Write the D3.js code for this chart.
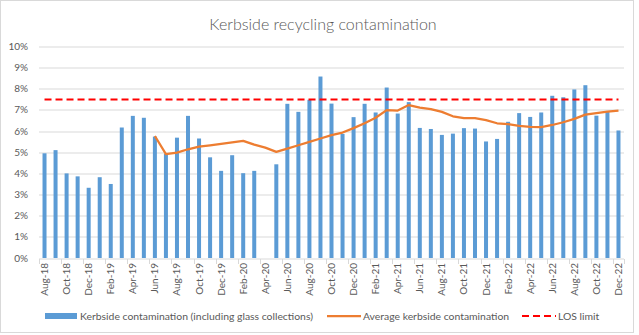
<!DOCTYPE html>
<html>
<head>
<meta charset="utf-8">
<script src="https://cdn.jsdelivr.net/npm/d3@7"></script>
<style>
  body { margin: 0; background: #fff; }
  text { font-family: Lato, "Open Sans", sans-serif; }
</style>
</head>
<body>
<div id="chart"></div>
<script>
// data
const months = [
  'Aug-18', 'Sep-18', 'Oct-18', 'Nov-18', 'Dec-18',
  'Jan-19', 'Feb-19', 'Mar-19', 'Apr-19', 'May-19', 'Jun-19', 'Jul-19', 'Aug-19', 'Sep-19', 'Oct-19', 'Nov-19', 'Dec-19',
  'Jan-20', 'Feb-20', 'Mar-20', 'Apr-20', 'May-20', 'Jun-20', 'Jul-20', 'Aug-20', 'Sep-20', 'Oct-20', 'Nov-20', 'Dec-20',
  'Jan-21', 'Feb-21', 'Mar-21', 'Apr-21', 'May-21', 'Jun-21', 'Jul-21', 'Aug-21', 'Sep-21', 'Oct-21', 'Nov-21', 'Dec-21',
  'Jan-22', 'Feb-22', 'Mar-22', 'Apr-22', 'May-22', 'Jun-22', 'Jul-22', 'Aug-22', 'Sep-22', 'Oct-22', 'Nov-22', 'Dec-22',
];
const tickLabels = [
  'Aug-18', 'Oct-18', 'Dec-18', 'Feb-19', 'Apr-19', 'Jun-19', 'Aug-19', 'Oct-19', 'Dec-19',
  'Feb-20', 'Apr-20', 'Jun-20', 'Aug-20', 'Oct-20', 'Dec-20', 'Feb-21', 'Apr-21', 'Jun-21',
  'Aug-21', 'Oct-21', 'Dec-21', 'Feb-22', 'Apr-22', 'Jun-22', 'Aug-22', 'Oct-22', 'Dec-22',
];
// kerbside contamination (%) per month, null = no data
const contamination = [
  4.95, 5.1, 4.0, 3.86, 3.32,
  3.82, 3.5, 6.17, 6.72, 6.63, 5.74, 4.93, 5.69, 6.72, 5.65, 4.76, 4.12,
  4.86, 4.01, 4.12, null, 4.43, 7.29, 6.91, 7.48, 8.58, 7.3, 5.87, 6.66,
  7.29, 6.88, 8.06, 6.83, 7.37, 6.15, 6.1, 5.82, 5.88, 6.14, 6.12, 5.51,
  5.63, 6.44, 6.85, 6.67, 6.88, 7.67, 7.6, 7.97, 8.17, 6.73, 6.91, 6.03,
];
// average kerbside contamination (%)
const average = [
  null, null, null, null, null,
  null, null, null, null, null, 5.77, 4.91, 4.98, 5.14, 5.27, 5.33, 5.4,
  5.47, 5.54, 5.36, 5.22, 5.02, 5.17, 5.33, 5.49, 5.65, 5.81, 5.93, 6.14,
  6.37, 6.63, 6.99, 6.97, 7.23, 7.11, 7.04, 6.91, 6.7, 6.61, 6.61, 6.52,
  6.37, 6.33, 6.25, 6.2, 6.19, 6.29, 6.42, 6.58, 6.78, 6.85, 6.92, 6.97,
];
const losLimit = 7.5;
const yTicks = [0, 1, 2, 3, 4, 5, 6, 7, 8, 9, 10];

const W = 639;
const H = 335;
const margin = { top: 46.5, right: 15, bottom: 77, left: 39 };
const innerW = W - margin.left - margin.right;
const innerH = H - margin.top - margin.bottom;
const grey = '#595959';

const svg = d3.select('#chart').append('svg').attr('width', W).attr('height', H);

// chart frame
svg.append('rect')
  .attr('x', 0.5).attr('y', 0.5)
  .attr('width', 633).attr('height', 332)
  .attr('fill', '#fff').attr('stroke', '#d9d9d9');

svg.append('text')
  .attr('x', 323).attr('y', 30)
  .attr('text-anchor', 'middle')
  .attr('font-size', 16)
  .attr('font-weight', 300)
  .attr('fill', grey)
  .text('Kerbside recycling contamination');

const g = svg.append('g').attr('transform', `translate(${margin.left},${margin.top})`);

const x = d3.scaleBand().domain(months).range([0, innerW]);
const y = d3.scaleLinear().domain([0, 10]).range([innerH, 0]);

// gridlines
g.append('g')
  .selectAll('line')
  .data(yTicks.slice(1))
  .join('line')
  .attr('x1', 0).attr('x2', innerW)
  .attr('y1', (d) => Math.round(y(d)) + 0.5)
  .attr('y2', (d) => Math.round(y(d)) + 0.5)
  .attr('stroke', '#d9d9d9');

// y labels
g.append('g')
  .selectAll('text')
  .data(yTicks)
  .join('text')
  .attr('x', -11)
  .attr('y', (d) => y(d))
  .attr('dy', '0.35em')
  .attr('text-anchor', 'end')
  .attr('font-size', 10)
  .attr('fill', grey)
  .text((d) => d + '%');

// bars
const barW = 4;
g.append('g')
  .selectAll('rect')
  .data(months.map((m, i) => ({ m, v: contamination[i] })).filter((d) => d.v != null))
  .join('rect')
  .attr('x', (d) => x(d.m) + x.bandwidth() / 2 - barW / 2)
  .attr('width', barW)
  .attr('y', (d) => y(d.v))
  .attr('height', (d) => innerH - y(d.v))
  .attr('fill', '#5b9bd5');

// x axis line + ticks at every other category boundary
const baseY = Math.round(innerH) + 0.5;
g.append('line')
  .attr('x1', 0).attr('x2', innerW)
  .attr('y1', baseY).attr('y2', baseY)
  .attr('stroke', '#d9d9d9');

const tickIdx = months.map((m, i) => i).filter((i) => i % 2 === 0);
tickIdx.push(months.length);
g.append('g')
  .selectAll('line')
  .data(tickIdx)
  .join('line')
  .attr('x1', (i) => Math.round(i * x.step()) + 0.5)
  .attr('x2', (i) => Math.round(i * x.step()) + 0.5)
  .attr('y1', baseY).attr('y2', baseY + 5)
  .attr('stroke', '#d9d9d9');

g.append('g')
  .selectAll('text')
  .data(tickLabels)
  .join('text')
  .attr('transform', (d) => `translate(${x(d) + x.bandwidth() / 2},${innerH + 5}) rotate(-90)`)
  .attr('text-anchor', 'end')
  .attr('dy', '0.35em')
  .attr('font-size', 10)
  .attr('fill', grey)
  .text((d) => d);

// average line
const line = d3.line()
  .defined((d) => d.v != null)
  .x((d) => x(d.m) + x.bandwidth() / 2)
  .y((d) => y(d.v));

g.append('path')
  .datum(months.map((m, i) => ({ m, v: average[i] })))
  .attr('d', line)
  .attr('fill', 'none')
  .attr('stroke', '#ed7d31')
  .attr('stroke-width', 2.25)
  .attr('stroke-linejoin', 'round');

// LOS limit
g.append('line')
  .attr('x1', x(months[0]) + x.bandwidth() / 2)
  .attr('x2', x(months[months.length - 1]) + x.bandwidth() / 2)
  .attr('y1', y(losLimit)).attr('y2', y(losLimit))
  .attr('stroke', '#ff0000')
  .attr('stroke-width', 2)
  .attr('stroke-dasharray', '7,4');

// legend
const legY = 316;
const legFont = 10.4;
const legend = svg.append('g');
legend.append('rect')
  .attr('x', 45).attr('y', legY - 3).attr('width', 32).attr('height', 6)
  .attr('fill', '#5b9bd5');
legend.append('text')
  .attr('x', 80).attr('y', legY).attr('dy', '0.35em')
  .attr('font-size', legFont).attr('fill', grey)
  .text('Kerbside contamination (including glass collections)');
legend.append('line')
  .attr('x1', 327).attr('x2', 361).attr('y1', legY).attr('y2', legY)
  .attr('stroke', '#ed7d31').attr('stroke-width', 2.25);
legend.append('text')
  .attr('x', 363).attr('y', legY).attr('dy', '0.35em')
  .attr('font-size', legFont).attr('fill', grey)
  .text('Average kerbside contamination');
legend.append('line')
  .attr('x1', 522).attr('x2', 556).attr('y1', legY).attr('y2', legY)
  .attr('stroke', '#ff0000').attr('stroke-width', 2)
  .attr('stroke-dasharray', '7,4');
legend.append('text')
  .attr('x', 558).attr('y', legY).attr('dy', '0.35em')
  .attr('font-size', legFont).attr('fill', grey)
  .text('LOS limit');
</script>
</body>
</html>
